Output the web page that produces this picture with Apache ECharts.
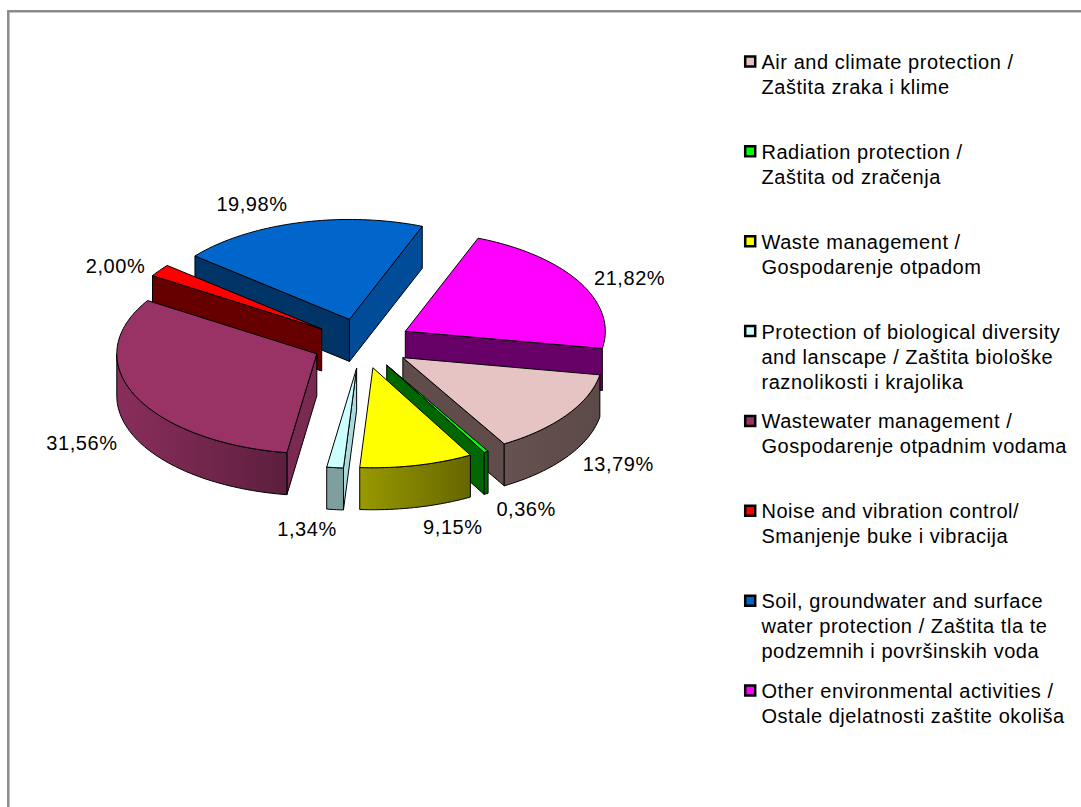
<!DOCTYPE html>
<html><head><meta charset="utf-8">
<style>html,body{margin:0;padding:0;background:#fff}#c{width:1081px;height:807px}#c svg text{letter-spacing:.55px}</style>
<script src="https://cdn.jsdelivr.net/npm/echarts@6/dist/echarts.min.js"></script>
</head><body><div id="c"></div>
<script>
// ---- data ----
var names = [
  'Air and climate protection /\nZaštita zraka i klime',
  'Radiation protection /\nZaštita od zračenja',
  'Waste management /\nGospodarenje otpadom',
  'Protection of biological diversity\nand lanscape / Zaštita biološke\nraznolikosti i krajolika',
  'Wastewater management /\nGospodarenje otpadnim vodama',
  'Noise and vibration control/\nSmanjenje buke i vibracija',
  'Soil, groundwater and surface\nwater protection / Zaštita tla te\npodzemnih i površinskih voda',
  'Other environmental activities /\nOstale djelatnosti zaštite okoliša'
];
var values = [13.79, 0.36, 9.15, 1.34, 31.56, 2.00, 19.98, 21.82];
var labels = ['13,79%','0,36%','9,15%','1,34%','31,56%','2,00%','19,98%','21,82%'];
// ---- styles ----
var topColors  = ['#e6c4c3','#00ff00','#ffff00','#ccffff','#993366','#ff0000','#0066cc','#ff00ff'];
var startWall  = ['#5f4c4b','#006600','#666600','#aadada','#7a2951','#660000','#003366','#660066'];
var endWall    = ['#5f4c4b','#006600','#666600','#aadada','#7a2951','#660000','#004c99','#660066'];
var arcLeft    = ['#66524f','#006600','#999900','#7f9f9f','#8a2e5c','#660000','#004c99','#990099'];
var arcRight   = ['#5c4a49','#006600','#666600','#7f9f9f','#5c1f3d','#660000','#004c99','#990099'];
var labelShift = [[51,49],[40,57],[36,62],[-28,61],[-53,48],[-44,-4],[-47,-19],[50,-4]];
var legendRows = [7,6,5,4,3,2,1,0];

// ---- pie geometry, in axis units (1 = pie radius) ----
var START_DEG = 99.9, EXPLODE = 0.2485, DEPTH = 0.42, R = Math.PI / 180;
var total = values.reduce(function (a, b) { return a + b; }, 0);
var starts = [], acc = START_DEG;
values.forEach(function (v) { starts.push(acc); acc += v / total * 360; });

function renderSlice(params, api) {
  var i = api.value(0), v = api.value(1);
  var a0 = starts[i], a1 = a0 + v / total * 360, mid = (a0 + a1) / 2;
  var ox = EXPLODE * Math.sin(mid * R), oy = EXPLODE * Math.cos(mid * R);
  function pt(deg, r, d) {
    return api.coord([ox + r * Math.sin(deg * R), oy + r * Math.cos(deg * R) - (d || 0)]);
  }
  var line = { stroke: '#000', lineWidth: 1, lineJoin: 'round' };
  function poly(points, fill, z) {
    return { type: 'polygon', z2: z, shape: { points: points },
             style: Object.assign({ fill: fill }, line) };
  }
  var children = [], base = Math.round(-Math.cos(mid * R) * 1000);
  var apexT = pt(0, 0), apexB = pt(0, 0, DEPTH);
  // visible cut faces
  if (Math.sin(a0 * R) < 0) {
    children.push(poly([apexT, pt(a0, 1), pt(a0, 1, DEPTH), apexB], startWall[i], base + 1));
  }
  if (Math.sin(a1 * R) > 0) {
    children.push(poly([apexT, pt(a1, 1), pt(a1, 1, DEPTH), apexB], endWall[i], base + 1));
  }
  // outer wall on the front half
  var wFrom = Math.max(a0, 90), wTo = Math.min(a1, 270);
  if (wTo > wFrom) {
    var up = [], down = [], n = Math.ceil((wTo - wFrom) / 1.5) + 1, k;
    for (k = 0; k <= n; k++) {
      var d = wFrom + (wTo - wFrom) * k / n;
      up.push(pt(d, 1));
      down.unshift(pt(d, 1, DEPTH));
    }
    children.push(poly(up.concat(down), new echarts.graphic.LinearGradient(0, 0, 1, 0, [
      { offset: 0, color: arcLeft[i] }, { offset: 1, color: arcRight[i] }
    ]), base + 2));
  }
  // top face
  var top = [apexT], m = Math.ceil((a1 - a0) / 1.5) + 1, j;
  for (j = 0; j <= m; j++) top.push(pt(a0 + (a1 - a0) * j / m, 1));
  children.push(poly(top, topColors[i], base + 3));
  // value label
  var anchor = pt(mid, 1);
  children.push({
    type: 'text', z2: 5000,
    style: {
      x: anchor[0] + labelShift[i][0], y: anchor[1] + labelShift[i][1],
      text: labels[i], fill: '#000', align: 'center', verticalAlign: 'middle',
      font: '20px "Liberation Sans", Arial, sans-serif'
    }
  });
  return { type: 'group', children: children };
}

var chart = echarts.init(document.getElementById('c'), null, { renderer: 'svg' });
chart.setOption({
  animation: false,
  backgroundColor: '#fff',
  graphic: [{
    type: 'polyline', silent: true,
    shape: { points: [[8.3, 807], [8.3, 11.3], [1081, 11.3]] },
    style: { stroke: '#8c8c8c', lineWidth: 2.5, fill: null }
  }],
  grid: [
    { left: 162, width: 400, top: 243.5, height: 200 },
    { left: 745, width: 20, top: 61.5, height: 629 }
  ],
  xAxis: [
    { gridIndex: 0, type: 'value', min: -1, max: 1, show: false },
    { gridIndex: 1, type: 'value', min: 0, max: 1, show: false }
  ],
  yAxis: [
    { gridIndex: 0, type: 'value', min: -1, max: 1, show: false },
    { gridIndex: 1, type: 'value', min: 0, max: 7, show: false }
  ],
  series: [
    {
      type: 'custom', xAxisIndex: 0, yAxisIndex: 0, clip: false,
      renderItem: renderSlice,
      data: values.map(function (v, i) { return [i, v]; })
    },
    {
      type: 'scatter', xAxisIndex: 1, yAxisIndex: 1,
      symbol: 'rect', symbolSize: 10,
      data: names.map(function (n, i) {
        return {
          name: n, value: [0.26, legendRows[i]],
          itemStyle: { color: topColors[i], borderColor: '#000', borderWidth: 2.5, opacity: 1 }
        };
      }),
      label: {
        show: true, position: 'right', distance: 5,
        formatter: function (p) { return p.name; },
        color: '#000', fontFamily: '"Liberation Sans", Arial, sans-serif',
        fontSize: 20, lineHeight: 25, align: 'left', verticalAlign: 'top', offset: [0, -12]
      }
    }
  ]
});
</script></body></html>
